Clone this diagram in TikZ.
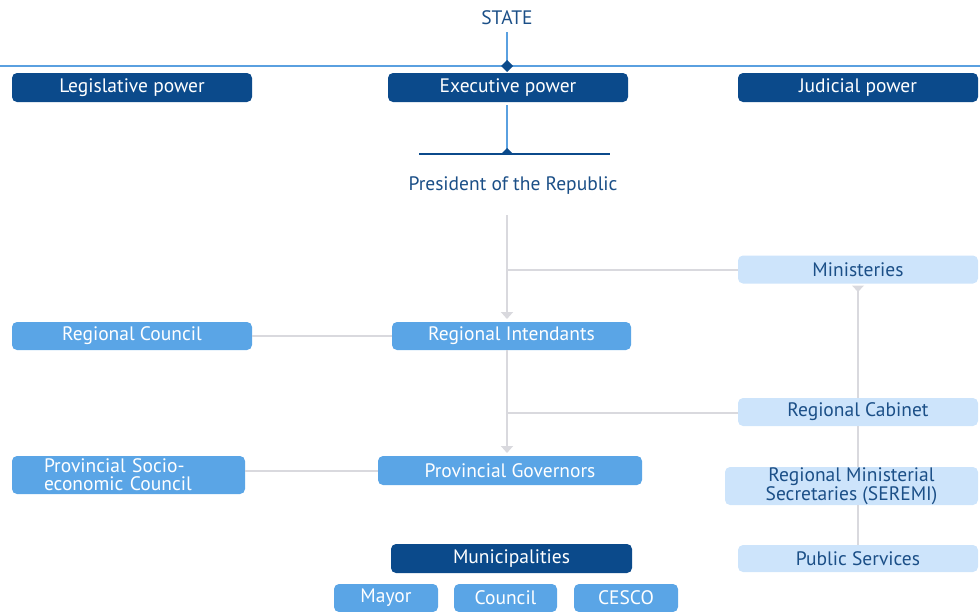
\documentclass[tikz,border=0pt]{standalone}
\usepackage{fontspec}
\setmainfont{PT Sans}
\usetikzlibrary{arrows.meta}
\definecolor{dk}{HTML}{0B4A8B}
\definecolor{md}{HTML}{5AA5E6}
\definecolor{lt}{HTML}{CDE4FB}
\definecolor{txt}{HTML}{1B4F87}
\definecolor{gl}{HTML}{D9D9DE}
\definecolor{bl}{HTML}{5AA0E0}
\tikzset{
  box/.style={rectangle, rounded corners=5pt, inner sep=0pt, align=center, font=\fontsize{19.5}{18}\selectfont},
  dkbox/.style={box, fill=dk, text=white},
  mdbox/.style={box, fill=md, text=white},
  ltbox/.style={box, fill=lt, text=txt},
  lbl/.style={text=txt, font=\fontsize{19.5}{19.5}\selectfont, inner sep=0pt},
  gline/.style={draw=gl, line width=2pt},
  bline/.style={draw=bl, line width=1.5pt},
  dline/.style={draw=dk, line width=1.5pt},
  garrow/.style={gline, -{Triangle[width=12pt,length=7pt]}, shorten >=3pt},
}
\begin{document}
\begin{tikzpicture}[x=1pt,y=-1pt]
\useasboundingbox (0,0) rectangle (980,611);
\clip (0,0) rectangle (980,611);
% texts
\node[lbl] (state) at (507,18) {STATE};
\node[lbl] (pres) at (513,186) {President of the Republic};
% power boxes
\node[dkbox, minimum width=240pt, minimum height=29pt] (leg) at (132,87.5) {Legislative power};
\node[dkbox, minimum width=240pt, minimum height=29pt] (exe) at (508,87.5) {Executive power};
\node[dkbox, minimum width=240pt, minimum height=29pt] (jud) at (858,87.5) {Judicial power};
% top lines
\coordinate (tl) at (0,66);
\coordinate (tr) at (980,66);
\coordinate (dia) at (507,66);
\coordinate (st) at (507,32);
\draw[bline] (tl) -- (tr);
\draw[bline] (st) -- (dia);
\fill[dk] (507,60) -- (513,66) -- (507,72) -- (501,66) -- cycle;
% exec to president
\coordinate (eb) at (507,105);
\coordinate (pt) at (507,154);
\coordinate (pl) at (419,154);
\coordinate (pr) at (610,154);
\draw[bline] (eb) -- (pt);
\draw[dline] (pl) -- (pr);
\fill[dk] (507,148) -- (513,154) -- (501,154) -- cycle;
% right column
\node[ltbox, minimum width=240pt, minimum height=28pt] (min) at (858,269.5) {Ministeries};
\node[ltbox, minimum width=240pt, minimum height=28pt] (cab) at (858,412) {Regional Cabinet};
\node[ltbox, minimum width=253pt, minimum height=38pt] (sem) at (851.5,486) {Regional Ministerial\\Secretaries (SEREMI)};
\node[ltbox, minimum width=240pt, minimum height=27pt] (ps) at (858,558.5) {Public Services};
% middle column
\node[mdbox, minimum width=239pt, minimum height=28pt] (ri) at (511.5,336) {Regional Intendants};
\node[mdbox, minimum width=264pt, minimum height=29pt] (pg) at (510,470.5) {Provincial Governors};
\node[dkbox, minimum width=241pt, minimum height=29pt] (mun) at (511.5,558.5) {Municipalities};
\node[mdbox, minimum width=104pt, minimum height=28pt] (may) at (386,598) {Mayor};
\node[mdbox, minimum width=103pt, minimum height=28pt] (cou) at (505.5,598) {Council};
\node[mdbox, minimum width=104pt, minimum height=28pt] (ces) at (626,598) {CESCO};
% left column
\node[mdbox, minimum width=240pt, minimum height=28pt] (rc) at (132,336) {Regional Council};
\node[mdbox, minimum width=233pt, minimum height=38pt, align=left, text width=169pt] (psec) at (128.5,475) {Provincial Socio-\\economic Council};
% gray connectors
\coordinate (pb) at (507,215);
\coordinate (j1) at (507,270);
\coordinate (rit) at (507,322);
\draw[garrow] (pb) -- (rit);
\draw[gline] (j1) -- (min.west |- j1);
\coordinate (rib) at (507,350);
\coordinate (j2) at (507,413);
\coordinate (pgt) at (507,456);
\draw[garrow] (rib) -- (pgt);
\draw[gline] (j2) -- (cab.west |- j2);
\draw[gline] (rc.east) -- (ri.west);
\draw[gline] (psec.east |- pg.west) -- (pg.west);
\coordinate (mt) at (858,290);
\fill[gl] (852,285.5) -- (864,285.5) -- (858,292) -- cycle;
\draw[gline] (mt) -- (cab.north);
\draw[gline] (cab.south) -- (cab.south |- sem.north);
\draw[gline] (cab.south |- sem.south) -- (ps.north);
\end{tikzpicture}
\end{document}
